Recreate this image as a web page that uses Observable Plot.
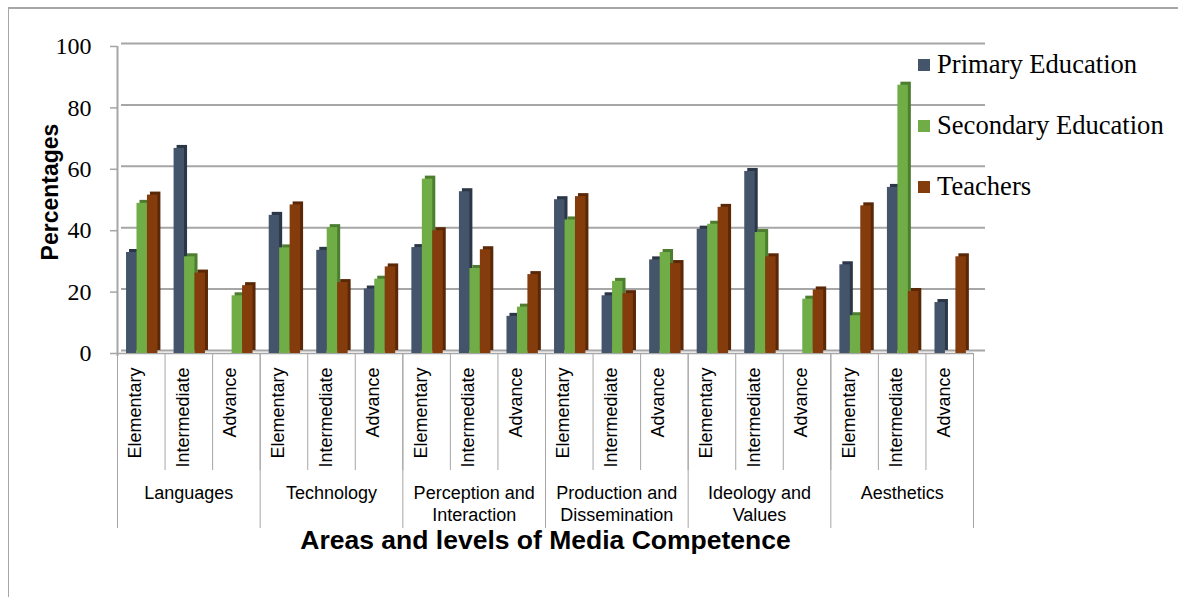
<!DOCTYPE html>
<html>
<head>
<meta charset="utf-8">
<script src="https://cdn.jsdelivr.net/npm/d3@7"></script>
<script src="https://cdn.jsdelivr.net/npm/@observablehq/plot@0.6"></script>
<style>
  body { margin: 0; background: #fff; }
  #wrap { position: relative; width: 1178px; height: 597px; overflow: hidden; background: #fff; }
  #chart { position: absolute; left: 0; top: 0; }
  #border { position: absolute; left: 8px; top: 7px; width: 1300px; height: 800px;
            border-left: 1.5px solid #a6a6a6; border-top: 2px solid #a6a6a6; pointer-events: none; }
  #legend { position: absolute; left: 918px; top: 46px; font-family: "Liberation Serif", serif; font-size: 26.6px; color: #000; }
  .item { position: absolute; left: 0; height: 36px; line-height: 36px; white-space: nowrap; }
  .sw { display: inline-block; width: 12px; height: 12px; margin-right: 7px; vertical-align: middle; position: relative; top: -2px; }
</style>
</head>
<body>
<div id="wrap">
  <div id="chart"></div>
  <div id="legend"></div>
  <div id="border"></div>
</div>
<script>
// ---- data ----
const groups = ["Languages", "Technology", "Perception and\nInteraction", "Production and\nDissemination", "Ideology and\nValues", "Aesthetics"];
const levels = ["Elementary", "Intermediate", "Advance"];
const series = ["Primary Education", "Secondary Education", "Teachers"];
const primary   = [32.9, 66.8, 0,    45.0, 33.6, 21.0, 34.5, 52.7, 12.1, 50.1, 18.8, 30.5, 40.5, 59.3, 0,    28.9, 54.1, 16.6];
const secondary = [48.9, 31.5, 18.8, 34.4, 41.0, 24.2, 56.8, 27.7, 15.1, 43.5, 23.5, 32.9, 42.1, 39.4, 17.7, 12.3, 87.4, 0];
const teachers  = [51.6, 26.2, 22.1, 48.4, 23.1, 28.2, 40.0, 33.8, 25.7, 51.1, 19.5, 29.3, 47.6, 31.5, 20.7, 48.1, 20.2, 31.5];
const yTicks = [0, 20, 40, 60, 80, 100];
const yLabel = "Percentages";
const xTitle = "Areas and levels of Media Competence";

// ---- styling ----
const colors = ["#44546a", "#70ad47", "#843c0c"];
const sideColors = ["#2b3646", "#4d7d2f", "#5a2807"];
const grid = "#a6a6a6";
const sans = "\"Liberation Sans\", Arial, sans-serif";
const serif = "\"Liberation Serif\", \"Times New Roman\", serif";

// ---- table ----
const values = [primary, secondary, teachers];
const combos = groups.flatMap((g, gi) => levels.map((l, li) => ({group: g, level: l, i: gi * 3 + li})));
const groupRows = groups.map((g, gi) => ({group: g, mid: gi * 3 + 1.5}));
const barStart = 0.19, barW = 0.22;
const rows = [];
combos.forEach(c => series.forEach((s, j) => rows.push({
  series: s, j, i: c.i, value: values[j][c.i],
  x1: c.i + barStart + j * barW, x2: c.i + barStart + (j + 1) * barW
})));
const n = combos.length;
const subEdges = d3.range(n + 1);
const groupEdges = d3.range(0, n + 1, levels.length);

const sideMarks = series.map((s, j) => Plot.rect(rows, {
  filter: d => d.j === j, x1: "x1", x2: "x2", y1: 0, y2: "value",
  fill: sideColors[j], dx: 3, dy: -3
}));

const chart = Plot.plot({
  width: 1178, height: 597,
  marginLeft: 117, marginRight: 205, marginTop: 46, marginBottom: 244,
  style: {background: "transparent", fontFamily: sans, color: "#000"},
  x: {domain: [0, n], axis: null},
  y: {domain: [0, 100], axis: null},
  color: {domain: series, range: colors},
  marks: [
    Plot.ruleY(yTicks, {stroke: grid, strokeWidth: 2, dy: -3, insetLeft: 4, insetRight: -12}),
    Plot.ruleY([0], {stroke: grid, strokeWidth: 1.5}),
    Plot.ruleX([0], {stroke: grid, strokeWidth: 2, insetBottom: -3}),
    Plot.ruleY(yTicks, {x1: 0, x2: 0, insetLeft: -7, stroke: grid, strokeWidth: 1.5}),
    Plot.text(yTicks, {y: d => d, text: d => String(d), frameAnchor: "left", textAnchor: "end",
                       dx: -26, fontSize: 24, fontFamily: serif, fill: "#000"}),
    ...sideMarks,
    Plot.rect(rows, {x1: "x1", x2: "x2", y1: 0, y2: "value", fill: "series"}),
    Plot.ruleX(subEdges, {stroke: grid, strokeWidth: 1, insetTop: 307, insetBottom: -117}),
    Plot.ruleX(groupEdges, {stroke: grid, strokeWidth: 1, insetTop: 307, insetBottom: -175}),
    Plot.text(combos, {x: d => d.i + 0.5, frameAnchor: "bottom", text: "level", rotate: -90,
                       textAnchor: "end", dy: 14, fontSize: 18, fontFamily: sans, fill: "#000"}),
    Plot.text(groupRows, {x: "mid", frameAnchor: "bottom", text: "group", lineAnchor: "top",
                          lineHeight: 1.22, dy: 130, fontSize: 18, fontFamily: sans, fill: "#000"}),
    Plot.text([xTitle], {text: d => d, frameAnchor: "bottom", dy: 195, fontSize: 26.5,
                         fontWeight: "bold", fontFamily: sans, fill: "#000"}),
    Plot.text([yLabel], {text: d => d, frameAnchor: "left", textAnchor: "middle", rotate: -90, dx: -67, dy: -8,
                         fontSize: 23, fontWeight: "bold", fontFamily: sans, fill: "#000"})
  ]
});
document.getElementById("chart").appendChild(chart);

// ---- legend ----
const legend = document.getElementById("legend");
series.forEach((s, j) => {
  const item = document.createElement("div");
  item.className = "item";
  item.style.top = (j * 61) + "px";
  const sw = document.createElement("span");
  sw.className = "sw";
  sw.style.background = colors[j];
  item.appendChild(sw);
  item.appendChild(document.createTextNode(s));
  legend.appendChild(item);
});
</script>
</body>
</html>
